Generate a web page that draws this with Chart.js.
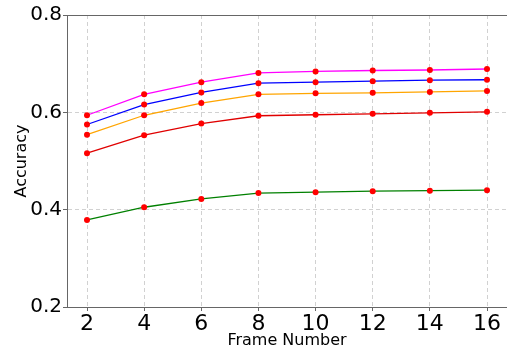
<!DOCTYPE html>
<html lang="en">
<head>
    <meta charset="UTF-8">
    <title>Accuracy vs Frame Number</title>
    <script src="https://cdn.jsdelivr.net/npm/chart.js"></script>
    <style>
        html, body { margin: 0; padding: 0; background: #fff; }
        .chart-container { width: 507px; height: 353px; }
    </style>
</head>
<body>
    <div class="chart-container">
        <canvas id="accChart" width="507" height="353"></canvas>
    </div>

    <script>
        const frames = [2, 4, 6, 8, 10, 12, 14, 16];
        const yTicks = [0.2, 0.4, 0.6, 0.8];

        const magentaSeries = [0.594, 0.637, 0.662, 0.681, 0.684, 0.686, 0.687, 0.689];
        const blueSeries    = [0.575, 0.616, 0.641, 0.660, 0.662, 0.664, 0.666, 0.667];
        const orangeSeries  = [0.554, 0.594, 0.619, 0.637, 0.639, 0.640, 0.642, 0.644];
        const redSeries     = [0.516, 0.553, 0.577, 0.593, 0.595, 0.597, 0.599, 0.601];
        const greenSeries   = [0.379, 0.405, 0.422, 0.434, 0.436, 0.438, 0.439, 0.440];

        const FONT = "'DejaVu Sans', sans-serif";

        function series(values, color) {
            return {
                data: frames.map((f, i) => ({ x: f, y: values[i] })),
                borderColor: color,
                borderWidth: 1.3,
                pointRadius: 3,
                pointBackgroundColor: '#ff0000',
                pointBorderColor: '#ff0000',
                pointBorderWidth: 0,
                tension: 0
            };
        }

        // matplotlib style frame on all four sides
        const frame = {
            id: 'frame',
            afterDraw(chart) {
                const a = chart.chartArea, ctx = chart.ctx;
                ctx.save();
                ctx.strokeStyle = '#666';
                ctx.lineWidth = 1;
                ctx.strokeRect(a.left + 0.5, a.top + 0.5, a.right - a.left, a.bottom - a.top);
                ctx.restore();
            }
        };

        new Chart(document.getElementById('accChart'), {
            type: 'line',
            data: {
                datasets: [
                    series(greenSeries, '#008000'),
                    series(redSeries, '#e00000'),
                    series(orangeSeries, '#ffa500'),
                    series(blueSeries, '#0000ff'),
                    series(magentaSeries, '#ff00ff')
                ]
            },
            options: {
                responsive: false,
                animation: false,
                layout: { autoPadding: false, padding: { top: 15, right: 0, left: 0, bottom: 0 } },
                plugins: { legend: { display: false }, tooltip: { enabled: false } },
                scales: {
                    x: {
                        type: 'linear',
                        min: 1.3,
                        max: 16.7,
                        afterBuildTicks: s => { s.ticks = frames.map(v => ({ value: v })); },
                        afterFit: s => { s.height = 46; s.paddingRight = 0; s.paddingLeft = 0; },
                        ticks: { color: '#000', font: { family: FONT, size: 22 }, padding: 0, maxRotation: 0 },
                        grid: { color: 'rgba(0,0,0,0.18)', tickColor: '#666', tickLength: 4 },
                        border: { color: '#666', dash: [4, 3] },
                        title: { display: true, text: 'Frame Number', color: '#000',
                                 font: { family: FONT, size: 16 }, padding: { top: 0, bottom: 3 } }
                    },
                    y: {
                        min: 0.2,
                        max: 0.8,
                        afterBuildTicks: s => { s.ticks = yTicks.map(v => ({ value: v })); },
                        afterFit: s => { s.width = 67; },
                        ticks: { color: '#000', font: { family: FONT, size: 20 }, padding: 1,
                                 callback: v => v.toFixed(1) },
                        grid: { color: 'rgba(0,0,0,0.18)', tickColor: '#666', tickLength: 4 },
                        border: { color: '#666', dash: [4, 3] },
                        title: { display: true, text: 'Accuracy', color: '#000',
                                 font: { family: FONT, size: 16 }, padding: { top: 12, bottom: 0 } }
                    }
                }
            },
            plugins: [frame]
        });
    </script>
</body>
</html>
